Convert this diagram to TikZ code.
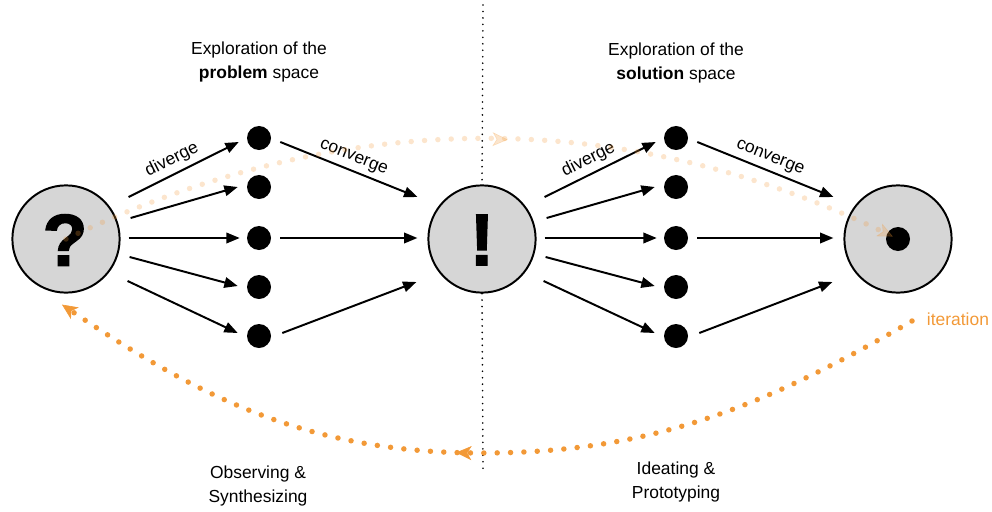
\documentclass[tikz,border=0pt]{standalone}
\usepackage{fontspec}
\setmainfont{Liberation Sans}
\newfontfamily\heavyfont{Liberation Sans Bold}[FakeBold=2]
\usepackage{tikz}
\usetikzlibrary{arrows.meta,decorations.markings}

\definecolor{iterorange}{RGB}{242,153,55}
\definecolor{bubblegray}{RGB}{214,214,214}

\begin{document}
\begin{tikzpicture}[x = 0.025cm, y = -0.025cm,
		every node/.style = {font = \fontsize{12.4}{16.4}\selectfont},
		bubble/.style = {circle, draw, line width = 1.4pt, fill = bubblegray, minimum size = 2.68cm, inner sep = 0pt},
		idea/.style = {circle, fill = black, minimum size = 0.6cm, inner sep = 0pt},
		bigsign/.style = {font = \fontsize{52}{52}\selectfont\heavyfont},
		arr/.style = {line width = 1.4pt, -{Triangle[length = 9.5pt, width = 7.5pt]}},
		divider/.style = {line width = 1.3pt, dash pattern = on 0pt off 4.6pt, line cap = round},
		iterpath/.style = {iterorange, line width = 3.9pt, line cap = round, dash pattern = on 0pt off 9.5pt},
		itertip/.style = {-{Stealth[length = 11pt, width = 10pt, inset = 3pt, line width = 0.4pt]}},
		midtip/.style = {postaction = {decorate}, decoration = {markings, mark = at position #1 with {\arrow{Stealth[length = 11pt, width = 10pt, inset = 3pt, line width = 0.4pt]}}}}]
	\useasboundingbox (0, 0) rectangle (992, 512);

	% titles
	\node[align = center] (probtitle) at (259, 62) {Exploration of the\\\textbf{problem} space};
	\node[align = center] (soltitle) at (676, 63) {Exploration of the\\\textbf{solution} space};
	\node[align = center] (observe) at (258, 486) {Observing \&\\Synthesizing};
	\node[align = center] (ideate) at (676, 482) {Ideating \&\\Prototyping};

	% divider
	\coordinate (divtop) at (483, 5);
	\coordinate (divbot) at (483, 470);

	% problem side
	\node[bubble] (q) at (66, 239) {};
	\node[bigsign] (qmark) at (65, 240) {?};
	\node[idea] (p1) at (259, 138) {};
	\node[idea] (p2) at (259, 187) {};
	\node[idea] (p3) at (259, 238) {};
	\node[idea] (p4) at (259, 287) {};
	\node[idea] (p5) at (259, 336) {};

	% middle
	\node[bubble] (m) at (482, 239) {};
	\node[bigsign] (emark) at (482, 240) {!};

	% solution side
	\node[idea] (s1) at (676, 138) {};
	\node[idea] (s2) at (676, 187) {};
	\node[idea] (s3) at (676, 238) {};
	\node[idea] (s4) at (676, 287) {};
	\node[idea] (s5) at (676, 336) {};
	\node[bubble] (t) at (898, 239) {};
	\node[idea] (tdot) at (898, 239) {};

	\node[iterorange, anchor = west] (it) at (922, 319) {iteration};

	\draw[divider] (divtop) -- (m.north);
	\draw[divider] (m.south) -- (divbot);

	% diverge / converge, problem
	\draw[arr] ([shift = {(8, -42)}]q.east) -- ([shift = {(-8, 4)}]p1.west) node[pos = 0.45, above, sloped] {diverge};
	\draw[arr] ([shift = {(10, -21)}]q.east) -- ([shift = {(-9, 0)}]p2.west);
	\draw[arr] ([shift = {(8, -1)}]q.east) -- ([shift = {(-7, 0)}]p3.west);
	\draw[arr] ([shift = {(9, 18)}]q.east) -- ([shift = {(-9, -1)}]p4.west);
	\draw[arr] ([shift = {(7, 42)}]q.east) -- ([shift = {(-9, -3)}]p5.west);
	\draw[arr] ([shift = {(9, 4)}]p1.east) -- ([shift = {(-10, -42)}]m.west) node[midway, above, sloped] {converge};
	\draw[arr] ([shift = {(9, 0)}]p3.east) -- ([shift = {(-10, -1)}]m.west);
	\draw[arr] ([shift = {(11, -3)}]p5.east) -- ([shift = {(-11, 43)}]m.west);

	% diverge / converge, solution
	\draw[arr] ([shift = {(8, -42)}]m.east) -- ([shift = {(-8, 4)}]s1.west) node[pos = 0.45, above, sloped] {diverge};
	\draw[arr] ([shift = {(10, -21)}]m.east) -- ([shift = {(-9, 0)}]s2.west);
	\draw[arr] ([shift = {(8, -1)}]m.east) -- ([shift = {(-7, 0)}]s3.west);
	\draw[arr] ([shift = {(9, 18)}]m.east) -- ([shift = {(-9, -1)}]s4.west);
	\draw[arr] ([shift = {(7, 42)}]m.east) -- ([shift = {(-9, -3)}]s5.west);
	\draw[arr] ([shift = {(9, 4)}]s1.east) -- ([shift = {(-10, -42)}]t.west) node[midway, above, sloped] {converge};
	\draw[arr] ([shift = {(9, 0)}]s3.east) -- ([shift = {(-10, -1)}]t.west);
	\draw[arr] ([shift = {(11, -3)}]s5.east) -- ([shift = {(-11, 43)}]t.west);

	% faint path over the top
	\draw[iterpath, opacity = 0.25, itertip, midtip = 0.53, shorten >= 4pt] (q.center) .. controls (343, 106) and (621, 106) .. (t.center);

	% iteration loop
	\coordinate (ib) at (482, 453);
	\draw[iterpath, itertip, midtip = 0.53] ([shift = {(-10, 2)}]it.west) .. controls (765, 406) and (652, 453) .. (ib) .. controls (312, 453) and (203, 400) .. ([shift = {(-4, 11)}]q.south);
\end{tikzpicture}
\end{document}
